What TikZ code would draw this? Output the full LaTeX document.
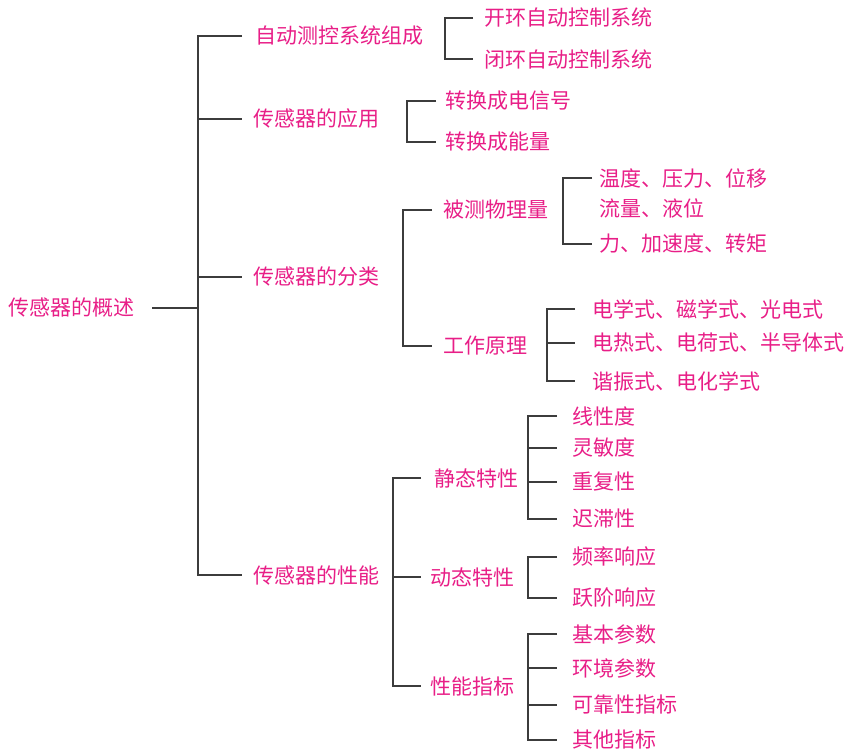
\documentclass[tikz,border=0pt]{standalone}
\usepackage{fontspec}
\newfontfamily\cjk{Noto Sans CJK SC}
\usetikzlibrary{calc}
\definecolor{txtpink}{RGB}{232,30,135}
\definecolor{lncol}{RGB}{60,60,60}
\begin{document}
\begin{tikzpicture}[x=0.5pt,y=-0.5pt,
  lab/.style={anchor=west,inner sep=0pt,outer sep=0pt,text=txtpink,font=\cjk\fontsize{10.5pt}{12pt}\selectfont},
  ln/.style={draw=lncol,line width=0.75pt}]
\useasboundingbox (0,0) rectangle (847,749);
% root
\node[lab] (root) at (9,308) {传感器的概述};
% level 1
\node[lab] (A) at (255,36) {自动测控系统组成};
\node[lab] (B) at (253,119) {传感器的应用};
\node[lab] (C) at (253,277) {传感器的分类};
\node[lab] (D) at (253,575) {传感器的性能};
% A children
\node[lab] (A1) at (484,18) {开环自动控制系统};
\node[lab] (A2) at (484,59) {闭环自动控制系统};
% B children
\node[lab] (B1) at (445,101) {转换成电信号};
\node[lab] (B2) at (445,142) {转换成能量};
% C children
\node[lab] (C1) at (443,210) {被测物理量};
\node[lab] (C2) at (443,346) {工作原理};
\node[lab] (C11) at (599,178) {温度、压力、位移};
\node[lab] (C12) at (599,208) {流量、液位};
\node[lab] (C13) at (599,244) {力、加速度、转矩};
\node[lab] (C21) at (592,309) {电学式、磁学式、光电式};
\node[lab] (C22) at (592,343) {电热式、电荷式、半导体式};
\node[lab] (C23) at (592,381) {谐振式、电化学式};
% D children
\node[lab] (D1) at (434,478) {静态特性};
\node[lab] (D2) at (430,577) {动态特性};
\node[lab] (D3) at (430,686) {性能指标};
\node[lab] (D11) at (572,416) {线性度};
\node[lab] (D12) at (572,448) {灵敏度};
\node[lab] (D13) at (572,482) {重复性};
\node[lab] (D14) at (572,519) {迟滞性};
\node[lab] (D21) at (572,557) {频率响应};
\node[lab] (D22) at (572,598) {跃阶响应};
\node[lab] (D31) at (572,634) {基本参数};
\node[lab] (D32) at (572,668) {环境参数};
\node[lab] (D33) at (572,705) {可靠性指标};
\node[lab] (D34) at (572,740) {其他指标};
% bus x / end x coordinates
\coordinate (b0) at (198,0);  \coordinate (e0) at (242,0);
\coordinate (bA) at (445,0);  \coordinate (eA) at (473,0);
\coordinate (bB) at (407,0);  \coordinate (eB) at (436,0);
\coordinate (bC) at (403,0);  \coordinate (eC) at (432,0);
\coordinate (bC1) at (563,0); \coordinate (eC1) at (592,0);
\coordinate (bC2) at (547,0); \coordinate (eC2) at (575,0);
\coordinate (bD) at (393,0);  \coordinate (eD) at (421,0);
\coordinate (bD1) at (528,0); \coordinate (eD1) at (557,0);
% root connector
\draw[ln] ($(root.east)+(17,0)$) -- (b0 |- root.east);
% level 1 bracket
\draw[ln] (e0 |- A.west) -| (b0 |- D.west) -- (e0 |- D.west);
\draw[ln] (b0 |- B.west) -- (e0 |- B.west);
\draw[ln] (b0 |- C.west) -- (e0 |- C.west);
% A bracket
\draw[ln] (eA |- A1.west) -| (bA |- A2.west) -- (eA |- A2.west);
% B bracket
\draw[ln] (eB |- B1.west) -| (bB |- B2.west) -- (eB |- B2.west);
% C bracket
\draw[ln] (eC |- C1.west) -| (bC |- C2.west) -- (eC |- C2.west);
% C1 bracket
\draw[ln] (eC1 |- C11.west) -| (bC1 |- C13.west) -- (eC1 |- C13.west);
% C2 bracket
\draw[ln] (eC2 |- C21.west) -| (bC2 |- C23.west) -- (eC2 |- C23.west);
\draw[ln] (bC2 |- C22.west) -- (eC2 |- C22.west);
% D bracket
\draw[ln] (eD |- D1.west) -| (bD |- D3.west) -- (eD |- D3.west);
\draw[ln] (bD |- D2.west) -- (eD |- D2.west);
% D1 bracket
\draw[ln] (eD1 |- D11.west) -| (bD1 |- D14.west) -- (eD1 |- D14.west);
\draw[ln] (bD1 |- D12.west) -- (eD1 |- D12.west);
\draw[ln] (bD1 |- D13.west) -- (eD1 |- D13.west);
% D2 bracket
\draw[ln] (eD1 |- D21.west) -| (bD1 |- D22.west) -- (eD1 |- D22.west);
% D3 bracket
\draw[ln] (eD1 |- D31.west) -| (bD1 |- D34.west) -- (eD1 |- D34.west);
\draw[ln] (bD1 |- D32.west) -- (eD1 |- D32.west);
\draw[ln] (bD1 |- D33.west) -- (eD1 |- D33.west);
\end{tikzpicture}
\end{document}
